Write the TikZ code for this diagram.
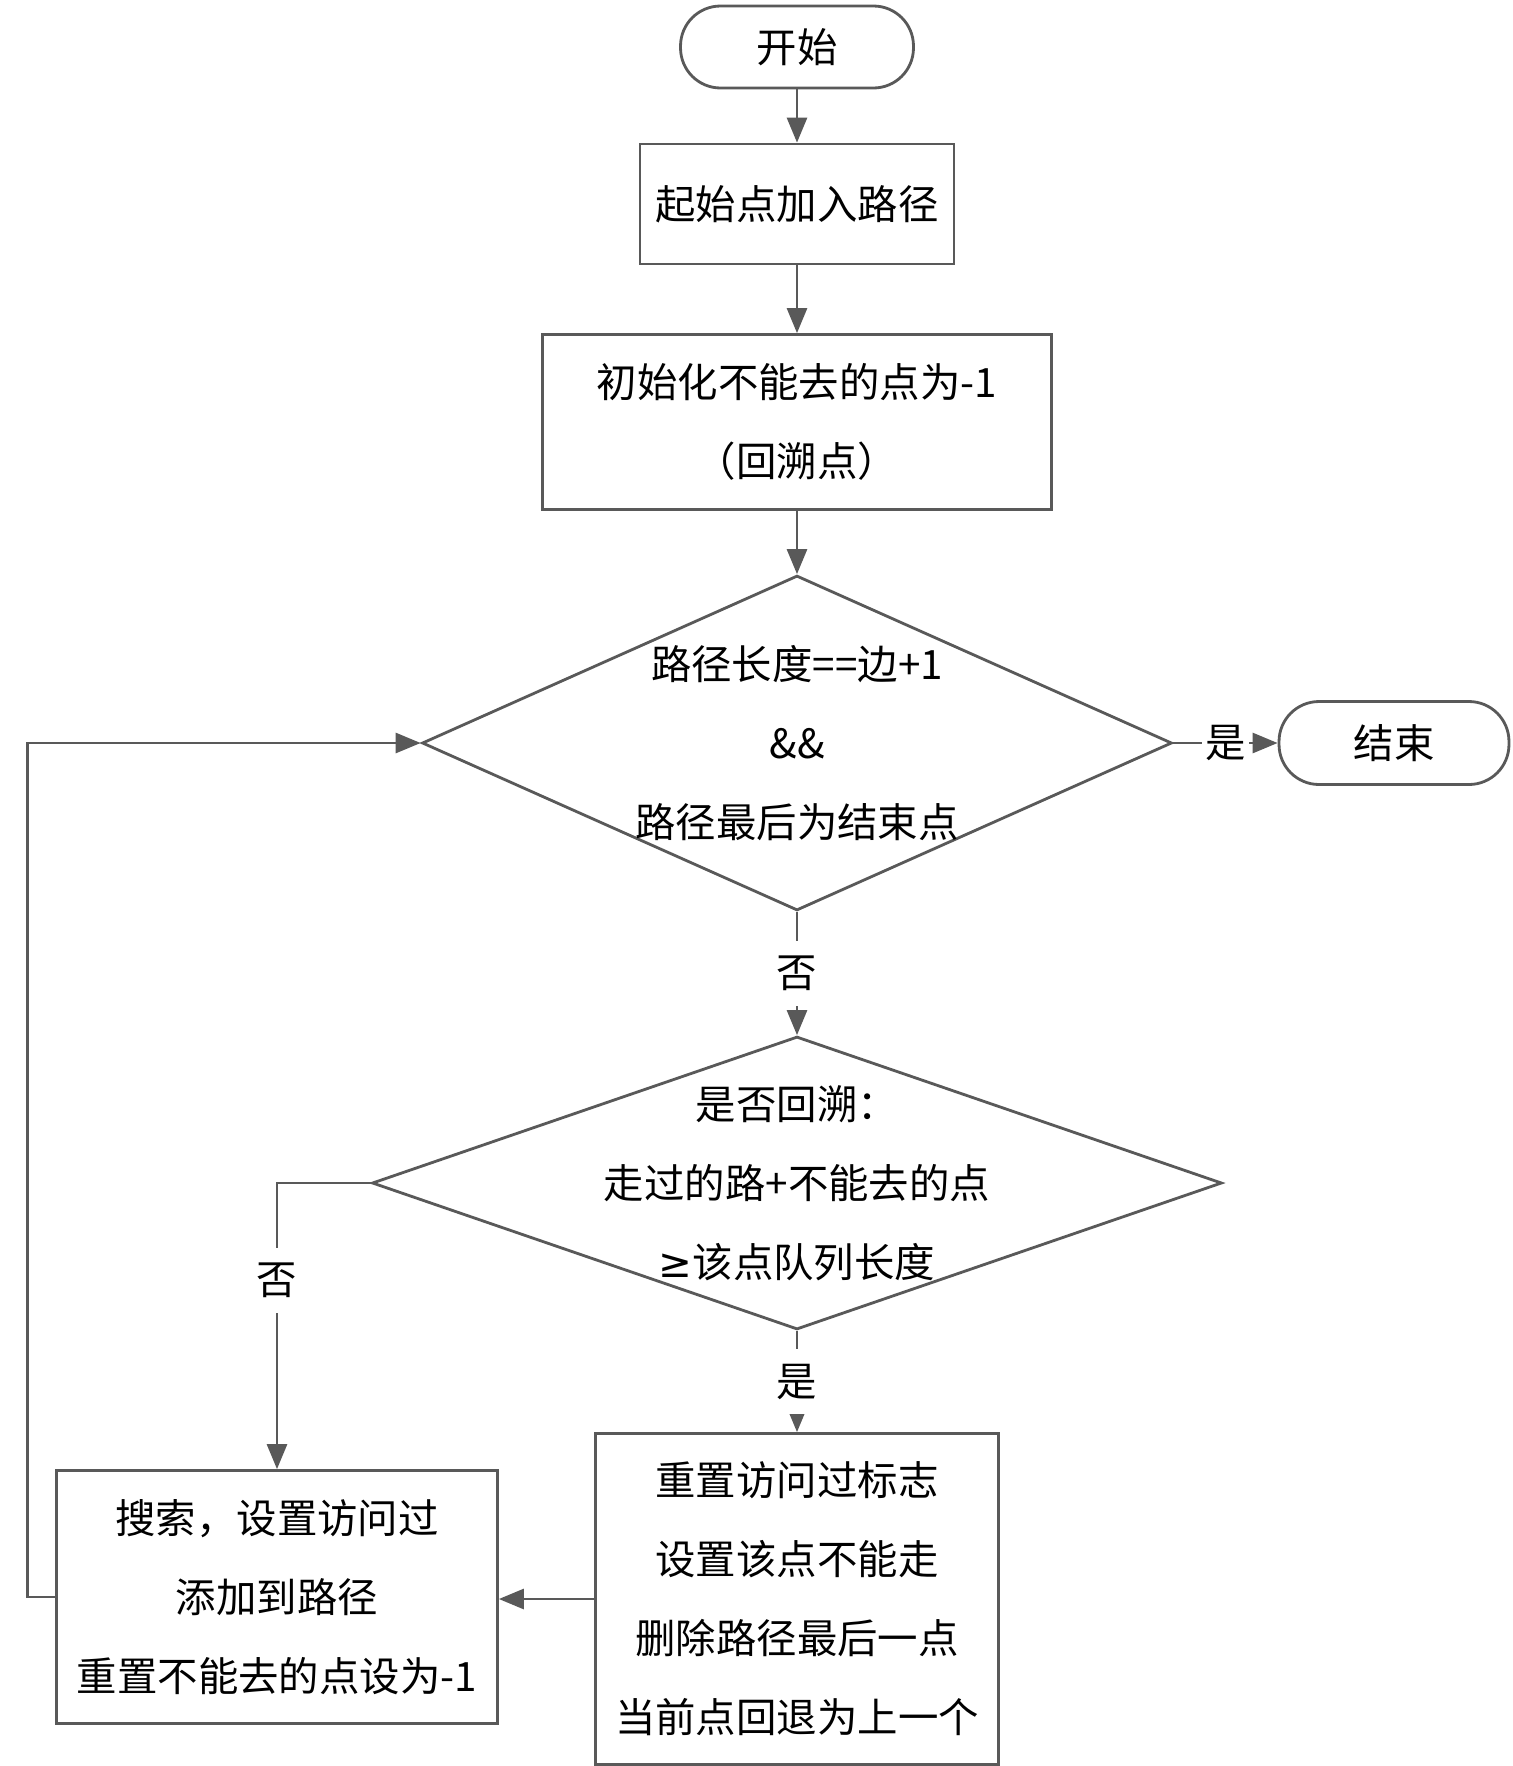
\documentclass[tikz,border=0pt]{standalone}
\usepackage{fontspec}
\setmainfont{Noto Sans CJK SC}
\newfontfamily\symfont{DejaVu Sans}
\usetikzlibrary{shapes.geometric,arrows.meta}
\definecolor{linegray}{HTML}{595959}

\begin{document}
\begin{tikzpicture}[x=0.02cm,y=-0.02cm,line width=1.6pt,font=\fontsize{23}{45}\selectfont]
	\tikzstyle{terminal}=[draw=linegray,rounded corners=0.8cm,minimum width=4.66cm,minimum height=1.64cm]
	\tikzstyle{process}=[draw=linegray,align=center]
	\tikzstyle{decision}=[draw=linegray,shape=diamond,inner sep=0pt]
	\tikzstyle{arr}=[draw=linegray,-{Triangle[length=0.5cm,width=0.4cm]}]
	\tikzstyle{yn}=[fill=white,inner xsep=2pt,inner ysep=0.3cm]

	\useasboundingbox (0,0) rectangle (1513,1766);

	\node[terminal](start) at (797,47){开始};
	\node[process,minimum width=6.28cm,minimum height=2.4cm](init) at (797,204){起始点加入路径};
	\node[process,minimum width=10.18cm,minimum height=3.5cm](mark) at (797,422){初始化不能去的点为-1\\（回溯点）};
	\node[decision,minimum width=15cm,minimum height=6.7cm,
		label={[align=center]center:路径长度==边+1\\\&\&\\路径最后为结束点}](full) at (797,743){};
	\node[terminal,minimum width=4.6cm,minimum height=1.66cm](stop) at (1394,743){结束};
	\node[decision,minimum width=17cm,minimum height=5.86cm,
		label={[align=center]center:是否回溯：\\走过的路+不能去的点\\{\symfont ≥}该点队列长度}](back) at (797,1183){};
	\node[process,minimum width=8.06cm,minimum height=6.62cm](undo) at (797,1599){重置访问过标志\\设置该点不能走\\删除路径最后一点\\当前点回退为上一个};
	\node[process,minimum width=8.82cm,minimum height=5.06cm](search) at (277,1597){搜索，设置访问过\\添加到路径\\重置不能去的点设为-1};

	\draw[arr] (start) -- (init);
	\draw[arr] (init) -- (mark);
	\draw[arr] (mark) -- (full);
	\draw[arr] (full) -- node[yn]{是} (stop);
	\draw[arr] (full) -- node[yn]{否} (back);
	\draw[arr] (back) -- node[yn]{是} (undo);
	\draw[arr] (back.west) -| node[yn,pos=0.67]{否} (search);
	\draw[arr] (undo.west) -- (undo.west -| search.east);
	\draw[arr] (search.west) -- ++(-28,0) |- (full.west);
\end{tikzpicture}
\end{document}
